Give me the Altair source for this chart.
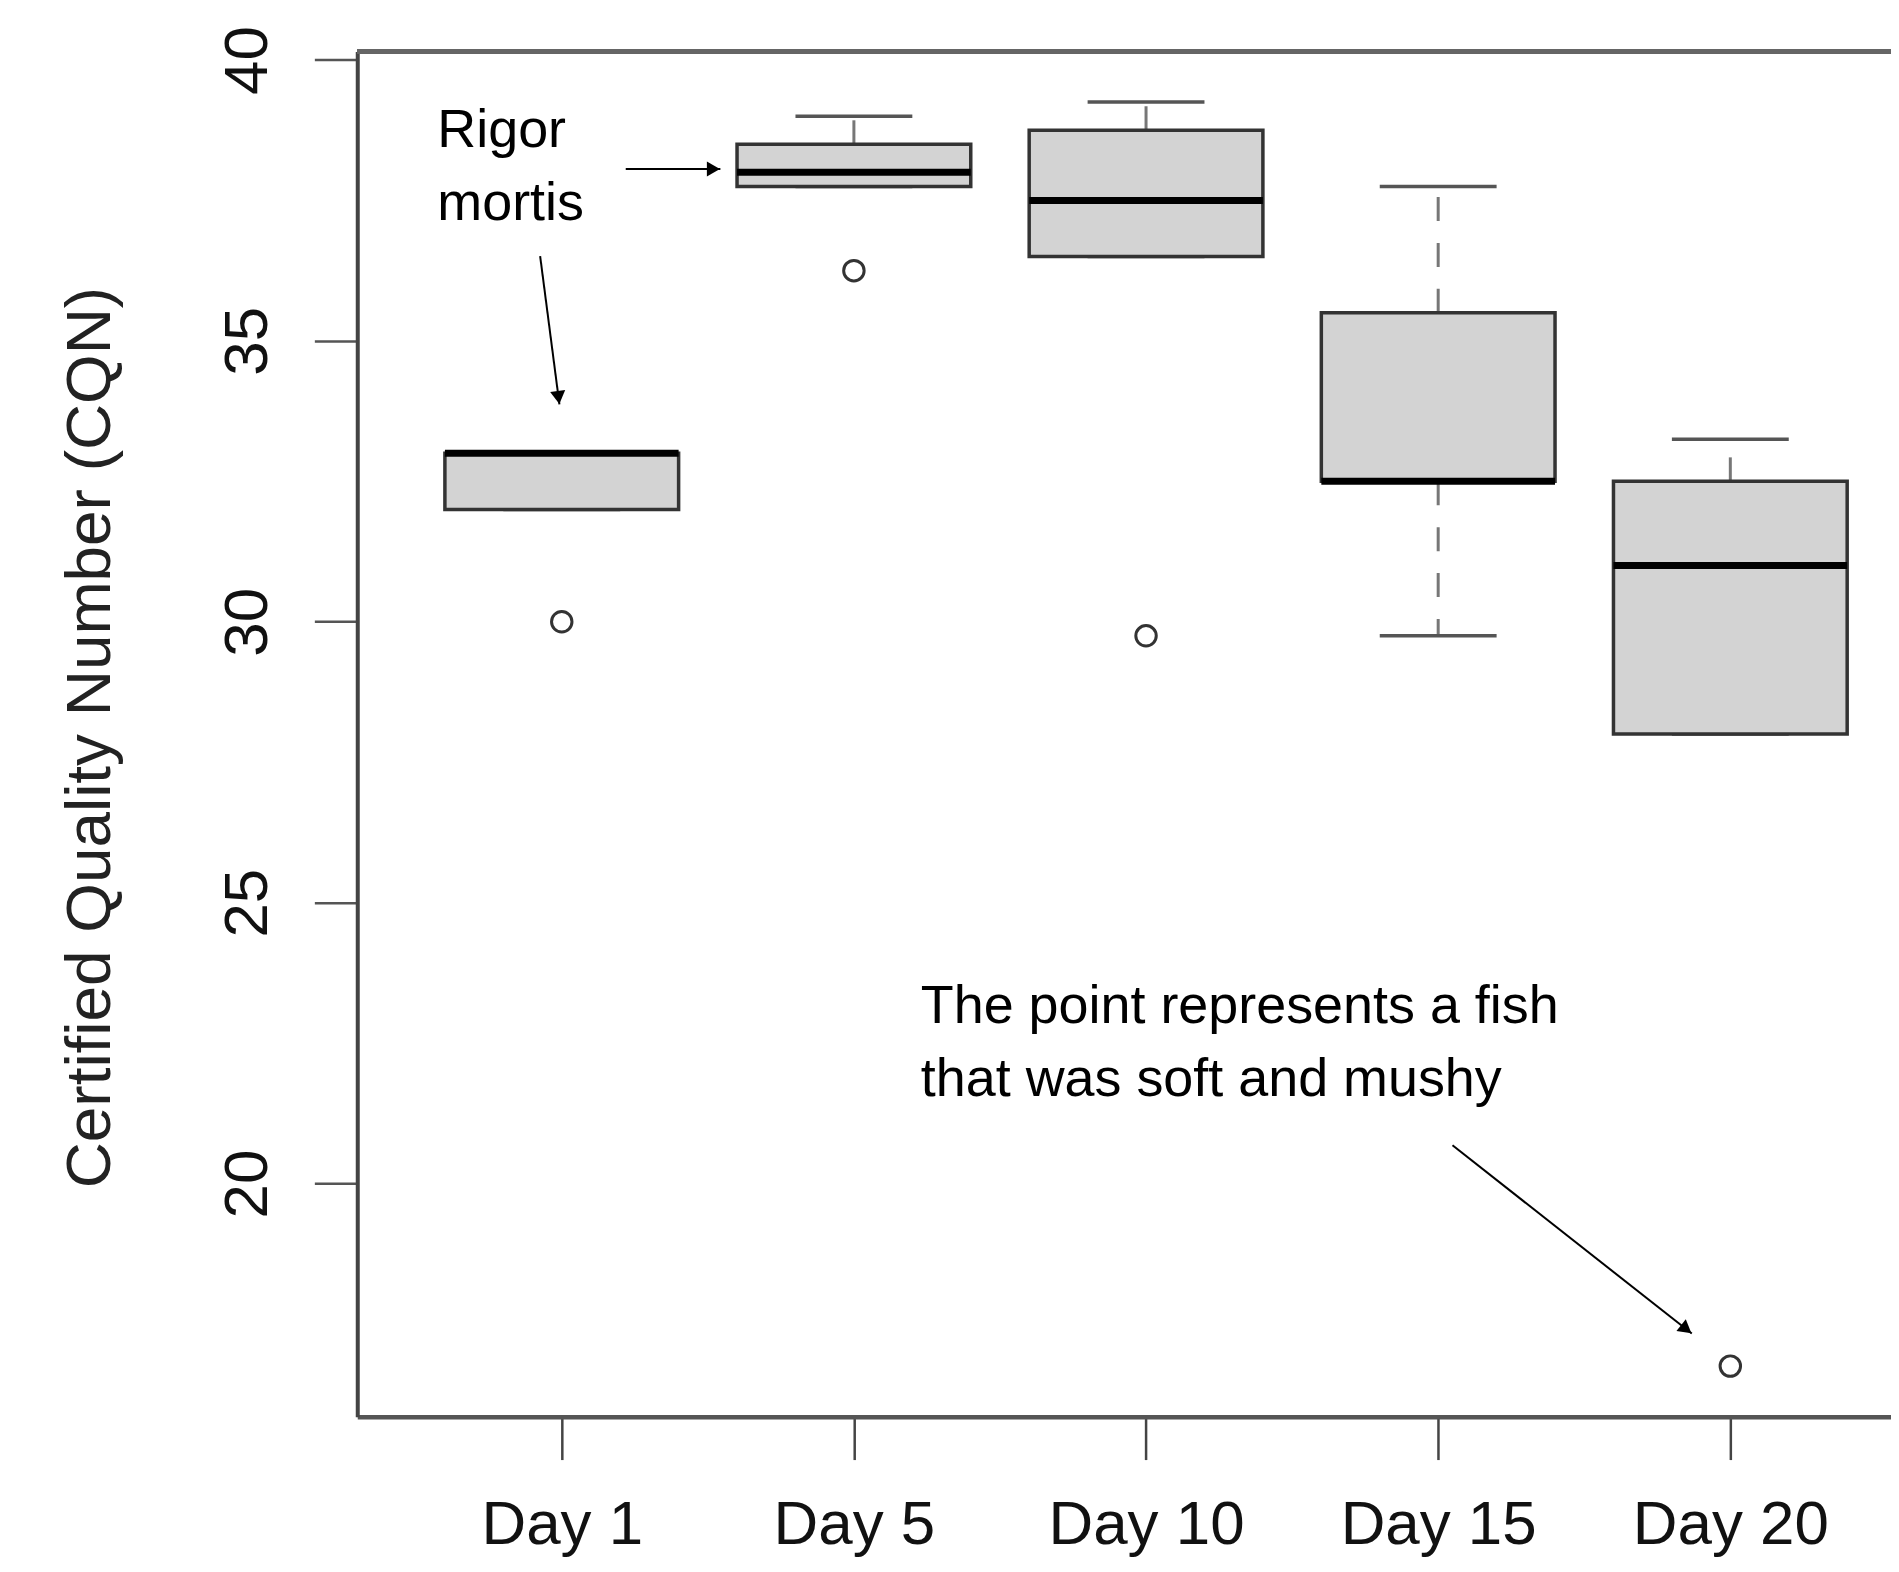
import math
import altair as alt
import pandas as pd

# ---- data ----
DAYS = ["Day 1", "Day 5", "Day 10", "Day 15", "Day 20"]
POS = [1, 2, 3, 4, 5]
WHISK_LO = [32.0, 37.75, 36.5, 29.75, 28.0]
Q1 = [32.0, 37.75, 36.5, 32.5, 28.0]
MEDIAN = [33.0, 38.0, 37.5, 32.5, 31.0]
Q3 = [33.0, 38.5, 38.75, 35.5, 32.5]
WHISK_HI = [33.0, 39.0, 39.25, 37.75, 33.25]

OUT_POS = [1, 2, 3, 5]
OUT_VAL = [30.0, 36.25, 29.75, 16.75]

NOTE_TEXT = ["Rigor", "mortis", "The point represents a fish", "that was soft and mushy"]
NOTE_X = [0.574, 0.574, 2.229, 2.229]
NOTE_Y = [38.45, 37.16, 22.86, 21.56]

ARROW_X1 = [1.219, 0.926, 4.049]
ARROW_Y1 = [38.06, 36.51, 20.68]
ARROW_X2 = [1.543, 0.992, 4.868]
ARROW_Y2 = [38.06, 33.87, 17.33]

# ---- layout ----
X_DOMAIN = [0.3, 5.55]
Y_DOMAIN = [15.85, 40.15]
W = 1537
H = 1368
PXX = W / (X_DOMAIN[1] - X_DOMAIN[0])
PXY = H / (Y_DOMAIN[1] - Y_DOMAIN[0])
FONT = "Liberation Sans"

boxes = pd.DataFrame({"pos": POS, "day": DAYS, "lo": WHISK_LO, "q1": Q1,
                      "med": MEDIAN, "q3": Q3, "hi": WHISK_HI})
outs = pd.DataFrame({"pos": OUT_POS, "val": OUT_VAL})
notes = pd.DataFrame({"x": NOTE_X, "y": NOTE_Y, "t": NOTE_TEXT})
arrows = pd.DataFrame({"x1": ARROW_X1, "y1": ARROW_Y1, "x2": ARROW_X2, "y2": ARROW_Y2})

ang, hx, hy = [], [], []
for x1, y1, x2, y2 in zip(ARROW_X1, ARROW_Y1, ARROW_X2, ARROW_Y2):
    dx = (x2 - x1) * PXX
    dy = -(y2 - y1) * PXY
    a = math.degrees(math.atan2(dx, -dy)) % 360
    L = math.hypot(dx, dy)
    back = 7.0
    hx.append(x2 - (dx / L) * back / PXX)
    hy.append(y2 + (dy / L) * back / PXY)
    ang.append(a)
heads = pd.DataFrame({"x": hx, "y": hy, "a": ang})

xs = alt.Scale(domain=X_DOMAIN, nice=False, zero=False)
ys = alt.Scale(domain=Y_DOMAIN, nice=False, zero=False)

label_expr = "[" + ",".join("'" + d + "'" for d in DAYS) + "][datum.value - 1]"

x_axis = alt.Axis(values=POS, labelExpr=label_expr, title=None, grid=False,
                  tickSize=43, tickWidth=2.5, tickColor="#444",
                  domainColor="#555", domainWidth=4.5,
                  labelFont=FONT, labelFontSize=62, labelColor="#111",
                  labelPadding=84, labelBaseline="alphabetic", labelAlign="center",
                  labelLimit=0, labelOverlap=False)
y_axis = alt.Axis(values=[20, 25, 30, 35, 40], title="Certified Quality Number (CQN)",
                  grid=False, tickSize=43, tickWidth=2.5, tickColor="#555",
                  domainColor="#444", domainWidth=4,
                  labelFont=FONT, labelFontSize=62, labelColor="#111",
                  labelAngle=270, labelAlign="center", labelBaseline="alphabetic",
                  labelPadding=48, labelLimit=0,
                  titleFont=FONT, titleFontSize=64, titleFontWeight="normal",
                  titleColor="#222", titleAngle=270, titleAlign="center",
                  titleBaseline="alphabetic", titleX=-248, titleY=687, titleLimit=0)


def X(f):
    return alt.X(f, type="quantitative", scale=xs, axis=x_axis)


def Y(f):
    return alt.Y(f, type="quantitative", scale=ys, axis=y_axis)


base = alt.Chart(boxes)

whisk_up = base.mark_rule(color="#777", strokeWidth=3, strokeDash=[24, 22]).encode(
    x=X("pos"), y=Y("q3"), y2="hi:Q")
whisk_lo = base.mark_rule(color="#777", strokeWidth=3, strokeDash=[24, 22]).encode(
    x=X("pos"), y=Y("q1"), y2="lo:Q")
caps = base.transform_calculate(l="datum.pos - 0.2", r="datum.pos + 0.2")
cap_hi = caps.mark_rule(color="#555", strokeWidth=3.5).encode(
    x=X("l"), x2="r:Q", y=Y("hi"))
cap_lo = caps.mark_rule(color="#555", strokeWidth=3.5).encode(
    x=X("l"), x2="r:Q", y=Y("lo"))
bx = base.transform_calculate(l="datum.pos - 0.4", r="datum.pos + 0.4")
box = bx.mark_rect(fill="#d3d3d3", stroke="#333", strokeWidth=3.5).encode(
    x=X("l"), x2="r:Q", y=Y("q1"), y2="q3:Q")
med = bx.mark_rule(color="#000", strokeWidth=7).encode(
    x=X("l"), x2="r:Q", y=Y("med"))
out = alt.Chart(outs).mark_point(shape="circle", filled=False, color="#333",
                                 strokeWidth=3, size=420, opacity=1).encode(
    x=X("pos"), y=Y("val"))
txt = alt.Chart(notes).mark_text(align="left", baseline="alphabetic", font=FONT,
                                 fontSize=54, color="#000").encode(
    x=X("x"), y=Y("y"), text="t:N")
arr = alt.Chart(arrows).mark_rule(color="#000", strokeWidth=2).encode(
    x=X("x1"), y=Y("y1"), x2="x2:Q", y2="y2:Q")
head = alt.Chart(heads).mark_point(shape="triangle-up", filled=True, color="#000",
                                   size=230, opacity=1).encode(
    x=X("x"), y=Y("y"), angle=alt.Angle("a:Q", scale=None))
top = alt.Chart(boxes).mark_rule(color="#666", strokeWidth=4.5).encode(
    x=alt.value(0), x2=alt.value(W), y=alt.value(0))

chart = alt.layer(whisk_up, whisk_lo, cap_hi, cap_lo, box, med, out, txt, arr, head, top).properties(
    width=W, height=H,
    autosize=alt.AutoSizeParams(type="none"),
    padding={"left": 350, "top": 42, "right": 0, "bottom": 146},
).configure_view(stroke=None).configure(background="white")

chart.save("out.html", embed_options={"renderer": "svg", "actions": False})
